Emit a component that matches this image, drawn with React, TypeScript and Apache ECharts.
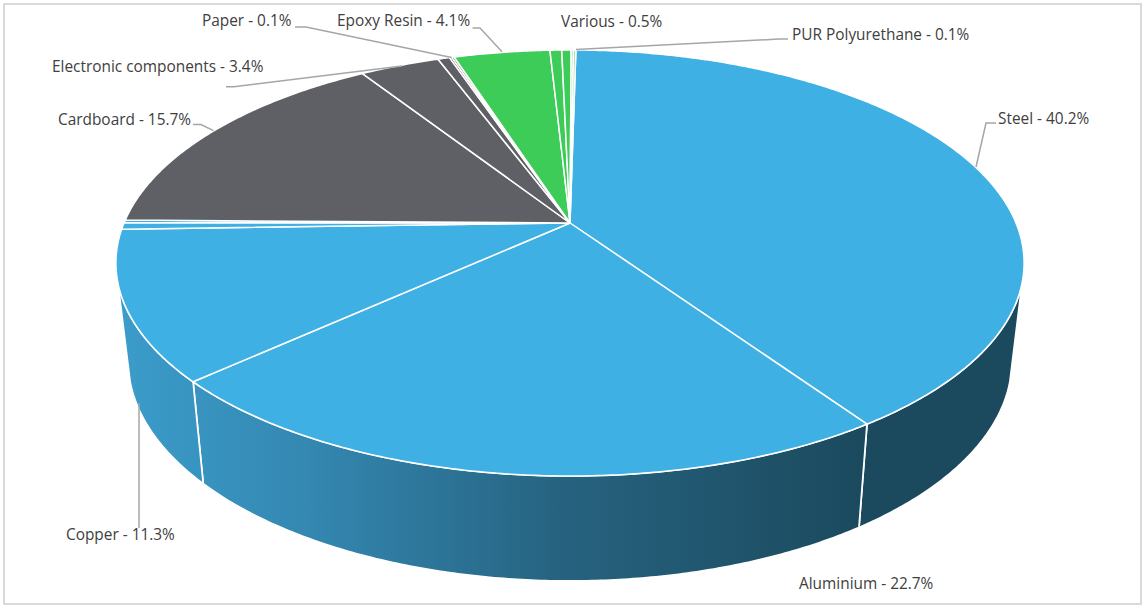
import React, { useEffect, useRef } from "react";
import * as echarts from "echarts";

// Slices, clockwise from the top of the pie; unnamed ones are unlabelled slivers in the reference.
const categories = [
  "Steel", "Aluminium", "Copper", "", "", "Cardboard", "Electronic components",
  "", "Paper", "", "Epoxy Resin", "Various", "", "PUR Polyurethane", "",
];
const shares = [40.2, 22.7, 11.3, 0.5, 0.2, 15.7, 3.4, 0.5, 0.1, 0.1, 4.1, 0.5, 0.4, 0.1, 0.1];

const BLUE = "#3EB0E4";
const GREY = "#5F6065";
const GREEN = "#3DCC58";
const PALE = "#8FDDA0";
const sliceColors = [BLUE, BLUE, BLUE, BLUE, BLUE, GREY, GREY, GREY, GREY, GREY, GREEN, GREEN, GREEN, PALE, PALE];

// Label layout, keyed by category: text position and leader line.
const labelLayout: Record<string, { x: number; y: number; leader?: number[][] }> = {
  Steel: { x: 998, y: 118, leader: [[976, 167], [986, 123], [996, 123]] },
  Aluminium: { x: 799, y: 583.5 },
  Copper: { x: 66, y: 534, leader: [[139, 403], [139, 528]] },
  Cardboard: { x: 58, y: 119, leader: [[213.5, 130.7], [201, 124.5], [193, 124.5]] },
  "Electronic components": { x: 52, y: 66.5, leader: [[402, 66], [234, 86.7], [226, 86.7]] },
  Paper: { x: 202, y: 20, leader: [[451.6, 57.5], [306, 27], [295, 27]] },
  "Epoxy Resin": { x: 337, y: 20, leader: [[502, 51.7], [480, 28], [472.6, 28]] },
  Various: { x: 561, y: 21 },
  "PUR Polyurethane": { x: 792, y: 34, leader: [[576, 49.5], [779, 39], [788, 39]] },
};

// Perspective mapping of the pie's unit circle on to the picture.
const APEX_X = 570;
const APEX_Y = 223;
const RADIUS_X = 446;
const RADIUS_Y = 205.5;
const PERSPECTIVE = -0.1877;
const START_DEG = 0.9;
const SIDE_FROM = 106;
const SIDE_TO = 254;

function rimTop(deg: number): number[] {
  const t = (deg * Math.PI) / 180;
  const u = Math.sin(t);
  const v = -Math.cos(t);
  const w = 1 + PERSPECTIVE * v;
  return [APEX_X + (RADIUS_X * u) / w, APEX_Y + (RADIUS_Y * v) / w];
}
function rimBottom(deg: number): number[] {
  const [x, y] = rimTop(deg);
  return [APEX_X + (x - APEX_X) * 0.973, y + 98.2 + 0.032 * (y - 263)];
}
function arc(from: number, to: number, fn: (d: number) => number[]): number[][] {
  const n = Math.max(2, Math.ceil((to - from) / 0.5));
  const pts: number[][] = [];
  for (let i = 0; i <= n; i++) pts.push(fn(from + ((to - from) * i) / n));
  return pts;
}

const total = shares.reduce((a, b) => a + b, 0);
const sliceRange = (i: number) => {
  const before = shares.slice(0, i).reduce((a, b) => a + b, 0);
  const from = START_DEG + (before / total) * 360;
  return [from, from + (shares[i] / total) * 360];
};

const sideFill = new echarts.graphic.LinearGradient(
  120, 0, 862, 0,
  [
    { offset: 0, color: "#3B9CCA" },
    { offset: 0.25, color: "#3488B2" },
    { offset: 0.6, color: "#26627F" },
    { offset: 1, color: "#1B4A5E" },
  ],
  true
);

function sideItem(params: any) {
  const [a, b] = sliceRange(params.dataIndex);
  const from = Math.max(a, SIDE_FROM);
  const to = Math.min(b, SIDE_TO);
  if (to <= from) return null;
  const points = [...arc(from, to, rimTop), ...arc(from, to, rimBottom).reverse()];
  return {
    type: "polygon",
    shape: { points },
    style: { fill: sideFill, stroke: "#FFFFFF", lineWidth: 1.75, lineJoin: "round" },
  };
}

function topItem(params: any) {
  const [a, b] = sliceRange(params.dataIndex);
  const points = [[APEX_X, APEX_Y], ...arc(a, b, rimTop)];
  return {
    type: "polygon",
    shape: { points },
    style: { fill: sliceColors[params.dataIndex], stroke: "#FFFFFF", lineWidth: 1.5, lineJoin: "round" },
  };
}

function labelItem(params: any) {
  const name = categories[params.dataIndex];
  const layout = labelLayout[name];
  if (!layout) return null;
  const children: any[] = [];
  if (layout.leader) {
    children.push({
      type: "polyline",
      shape: { points: layout.leader },
      style: { fill: "none", stroke: "#A6A6A6", lineWidth: 1.5 },
    });
  }
  children.push({
    type: "text",
    style: {
      text: `${name} - ${shares[params.dataIndex]}%`,
      x: layout.x,
      y: layout.y,
      fill: "#404040",
      font: '15.4px "Open Sans"',
      align: "left",
      verticalAlign: "middle",
    },
  });
  return { type: "group", children };
}

export default function App() {
  const ref = useRef<HTMLDivElement>(null);
  useEffect(() => {
    document.body.style.margin = "0";
    const chart = echarts.init(ref.current!, undefined, { renderer: "svg" });
    const data = categories.map((name, i) => ({ name, value: shares[i] }));
    const layer = (renderItem: any, z: number) => ({
      type: "custom",
      coordinateSystem: "none",
      silent: true,
      clip: false,
      z,
      data,
      renderItem,
    });
    chart.setOption({
      animation: false,
      backgroundColor: "#FFFFFF",
      graphic: [
        {
          type: "rect",
          z: 0,
          shape: { x: 4, y: 4, width: 1137, height: 600 },
          style: { fill: "none", stroke: "#D9D9D9", lineWidth: 2 },
        },
      ],
      series: [layer(sideItem, 2), layer(topItem, 3), layer(labelItem, 4)],
    });
    return () => chart.dispose();
  }, []);
  return <div ref={ref} style={{ position: "absolute", left: 0, top: 0, width: 1143, height: 606 }} />;
}
